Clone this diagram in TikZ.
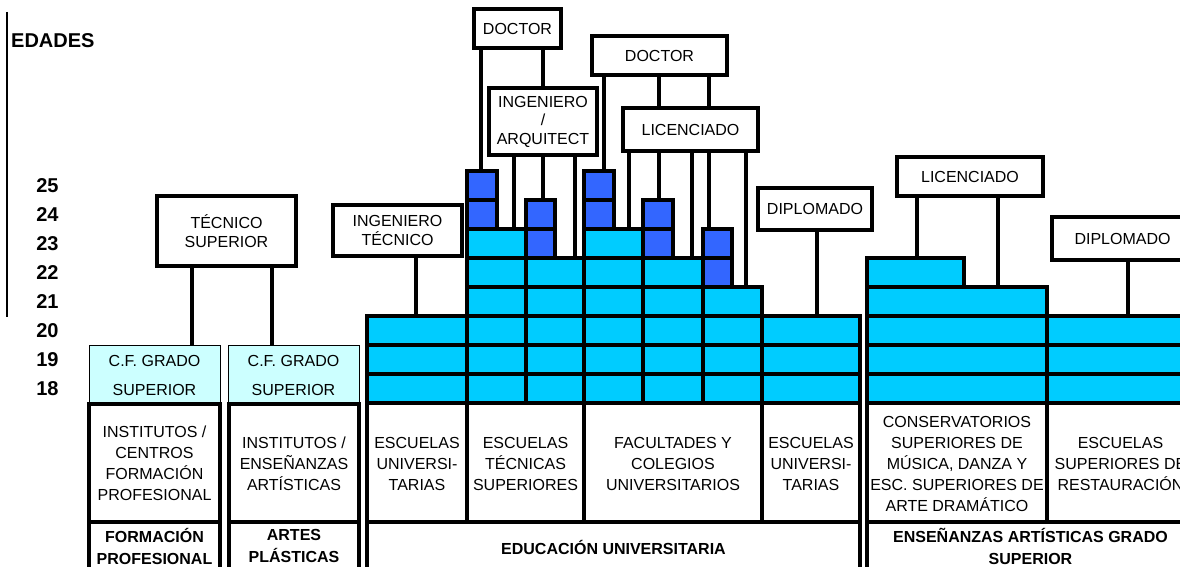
\documentclass[tikz,border=0pt]{standalone}
\usepackage{fontspec}
\setmainfont{Liberation Sans}
\definecolor{lb}{HTML}{00CCFF}
\definecolor{db}{HTML}{3366FF}
\definecolor{cy}{HTML}{CCFFFF}
\newcommand\ftop{\fontsize{16bp}{18.5bp}\selectfont}
\newcommand\fcell{\fontsize{16bp}{21bp}\selectfont}
\newcommand\flab{\fontsize{16bp}{22bp}\selectfont\bfseries}
\newcommand\fage{\fontsize{20bp}{22bp}\selectfont\bfseries}
\begin{document}
\begin{tikzpicture}[x=1bp,y=-1bp,
  thk/.style={line width=3.1bp},
  lbox/.style={draw,thk,fill=white,inner sep=0pt,align=center,font=\ftop},
  light/.style={fill=lb,draw,thk},
  dark/.style={fill=db,draw,thk},
  cellbox/.style={draw,thk,fill=white},
  celltext/.style={align=center,font=\fcell,inner sep=0pt},
  labtext/.style={align=center,font=\flab,inner sep=0pt},
  agetext/.style={font=\fage,inner sep=0pt},
  cfbox/.style={draw,line width=0.9bp,fill=cy},
]
\useasboundingbox (0,0) rectangle (1180,567);
\clip (0,0) rectangle (1180,567);

% axis
\draw[line width=2bp] (7,12) -- (7,317);
\node[agetext,anchor=west] (edades) at (11,41) {EDADES};
\node[agetext] (a25) at (47.5,185.5) {25};
\node[agetext] (a24) at (47.5,214.5) {24};
\node[agetext] (a23) at (47.5,243.5) {23};
\node[agetext] (a22) at (47.5,272.5) {22};
\node[agetext] (a21) at (47.5,301.5) {21};
\node[agetext] (a20) at (47.5,330.5) {20};
\node[agetext] (a19) at (47.5,359.5) {19};
\node[agetext] (a18) at (47.5,388.5) {18};

% university blocks
\foreach \a/\b in {367/467,467/526,526/584,584/643,643/703,703/762,762/860}
  \foreach \t in {316,345,374} \draw[light] (\a,\t) rectangle (\b,\t+29);
\foreach \a/\b in {467/526,526/584,584/643,643/703,703/762}
  \draw[light] (\a,287) rectangle (\b,316);
\foreach \a/\b in {467/526,526/584,584/643,643/703}
  \draw[light] (\a,258) rectangle (\b,287);
\draw[dark] (703,258) rectangle (732,287);
\draw[light] (467,229) rectangle (526,258);
\draw[light] (584,229) rectangle (643,258);
\foreach \a/\b in {526/555,643/673,703/732}
  \draw[dark] (\a,229) rectangle (\b,258);
\foreach \a/\b in {467/497,526/555,584/614,643/673}
  \draw[dark] (\a,200) rectangle (\b,229);
\foreach \a/\b in {467/497,584/614}
  \draw[dark] (\a,171) rectangle (\b,200);

% artistic blocks
\foreach \a/\b in {867/1047,1047/1195}
  \foreach \t in {316,345,374} \draw[light] (\a,\t) rectangle (\b,\t+29);
\draw[light] (867,287) rectangle (1047,316);
\draw[light] (867,258) rectangle (964,287);

% C.F. boxes
\draw[cfbox] (89,345) rectangle (220,403);
\node[celltext] (cf1a) at (154.5,360.5) {C.F. GRADO};
\node[celltext] (cf1b) at (154.5,390) {SUPERIOR};
\draw[cfbox] (228,345) rectangle (359,403);
\node[celltext] (cf2a) at (293.5,360.5) {C.F. GRADO};
\node[celltext] (cf2b) at (293.5,390) {SUPERIOR};

% top label boxes
\node[lbox,minimum width=87bp,minimum height=39bp] (doc1) at (517.5,28.5) {DOCTOR};
\node[lbox,minimum width=108bp,minimum height=67bp] (ing) at (543,121.5) {INGENIERO\\/\\ARQUITECT};
\node[lbox,minimum width=135bp,minimum height=39bp] (doc2) at (659.5,55.5) {DOCTOR};
\node[lbox,minimum width=135bp,minimum height=43bp] (lic1) at (690.5,129.5) {LICENCIADO};
\node[lbox,minimum width=129bp,minimum height=51bp] (ingt) at (397.5,230.5) {INGENIERO\\TÉCNICO};
\node[lbox,minimum width=139bp,minimum height=70bp] (tecs) at (226.5,231) {TÉCNICO\\SUPERIOR};
\node[lbox,minimum width=114bp,minimum height=42bp] (dip1) at (815,209) {DIPLOMADO};
\node[lbox,minimum width=146bp,minimum height=39bp] (lic2) at (970,176.5) {LICENCIADO};
\node[lbox,minimum width=141bp,minimum height=43bp] (dip2) at (1122.5,238.5) {DIPLOMADO};

% connectors
\draw[thk] (481,0 |- doc1.south) -- (481,171);
\draw[thk] (543,0 |- doc1.south) -- (543,0 |- ing.north);
\draw[thk] (514,0 |- ing.south) -- (514,229);
\draw[thk] (543,0 |- ing.south) -- (543,200);
\draw[thk] (575,0 |- ing.south) -- (575,258);
\draw[thk] (604,0 |- doc2.south) -- (604,171);
\draw[thk] (659,0 |- doc2.south) -- (659,0 |- lic1.north);
\draw[thk] (709,0 |- doc2.south) -- (709,0 |- lic1.north);
\draw[thk] (629,0 |- lic1.south) -- (629,229);
\draw[thk] (659,0 |- lic1.south) -- (659,200);
\draw[thk] (692,0 |- lic1.south) -- (692,258);
\draw[thk] (709,0 |- lic1.south) -- (709,229);
\draw[thk] (746,0 |- lic1.south) -- (746,287);
\draw[thk] (416,0 |- ingt.south) -- (416,316);
\draw[thk] (192,0 |- tecs.south) -- (192,345);
\draw[thk] (272,0 |- tecs.south) -- (272,345);
\draw[thk] (817,0 |- dip1.south) -- (817,316);
\draw[thk] (917,0 |- lic2.south) -- (917,258);
\draw[thk] (998,0 |- lic2.south) -- (998,287);
\draw[thk] (1128,0 |- dip2.south) -- (1128,316);

% bottom cells
\draw[cellbox] (89,404) rectangle (220,522);
\draw[cellbox] (89,522) rectangle (220,590);
\node[celltext] (fpc) at (154.5,463.5) {INSTITUTOS /\\CENTROS\\FORMACIÓN\\PROFESIONAL};
\node[labtext] (fpl) at (154.5,546) {FORMACIÓN\\PROFESIONAL};

\draw[cellbox] (229,404) rectangle (359,522);
\draw[cellbox] (229,522) rectangle (359,590);
\node[celltext] (arc) at (294,463.5) {INSTITUTOS /\\ENSEÑANZAS\\ARTÍSTICAS};
\node[labtext] (arl) at (294,546) {ARTES\\PLÁSTICAS};

\draw[cellbox] (367,403) rectangle (467,522);
\draw[cellbox] (467,403) rectangle (584,522);
\draw[cellbox] (584,403) rectangle (762,522);
\draw[cellbox] (762,403) rectangle (860,522);
\draw[cellbox] (367,522) rectangle (860,590);
\node[celltext] (euc1) at (417,463.5) {ESCUELAS\\UNIVERSI-\\TARIAS};
\node[celltext] (euc2) at (525.5,463.5) {ESCUELAS\\TÉCNICAS\\SUPERIORES};
\node[celltext] (euc3) at (673,463.5) {FACULTADES Y\\COLEGIOS\\UNIVERSITARIOS};
\node[celltext] (euc4) at (811,463.5) {ESCUELAS\\UNIVERSI-\\TARIAS};
\node[labtext] (eul) at (613.5,547) {EDUCACIÓN UNIVERSITARIA};

\draw[cellbox] (867,403) rectangle (1047,522);
\draw[cellbox] (1047,403) rectangle (1195,522);
\draw[cellbox] (867,522) rectangle (1195,590);
\node[celltext] (eac1) at (957,464) {CONSERVATORIOS\\SUPERIORES DE\\MÚSICA, DANZA Y\\ESC. SUPERIORES DE\\ARTE DRAMÁTICO};
\node[celltext] (eac2) at (1120.5,463.5) {ESCUELAS\\SUPERIORES DE\\RESTAURACIÓN};
\node[labtext] (eal) at (1030.5,546) {ENSEÑANZAS ARTÍSTICAS GRADO\\SUPERIOR};
\end{tikzpicture}
\end{document}
